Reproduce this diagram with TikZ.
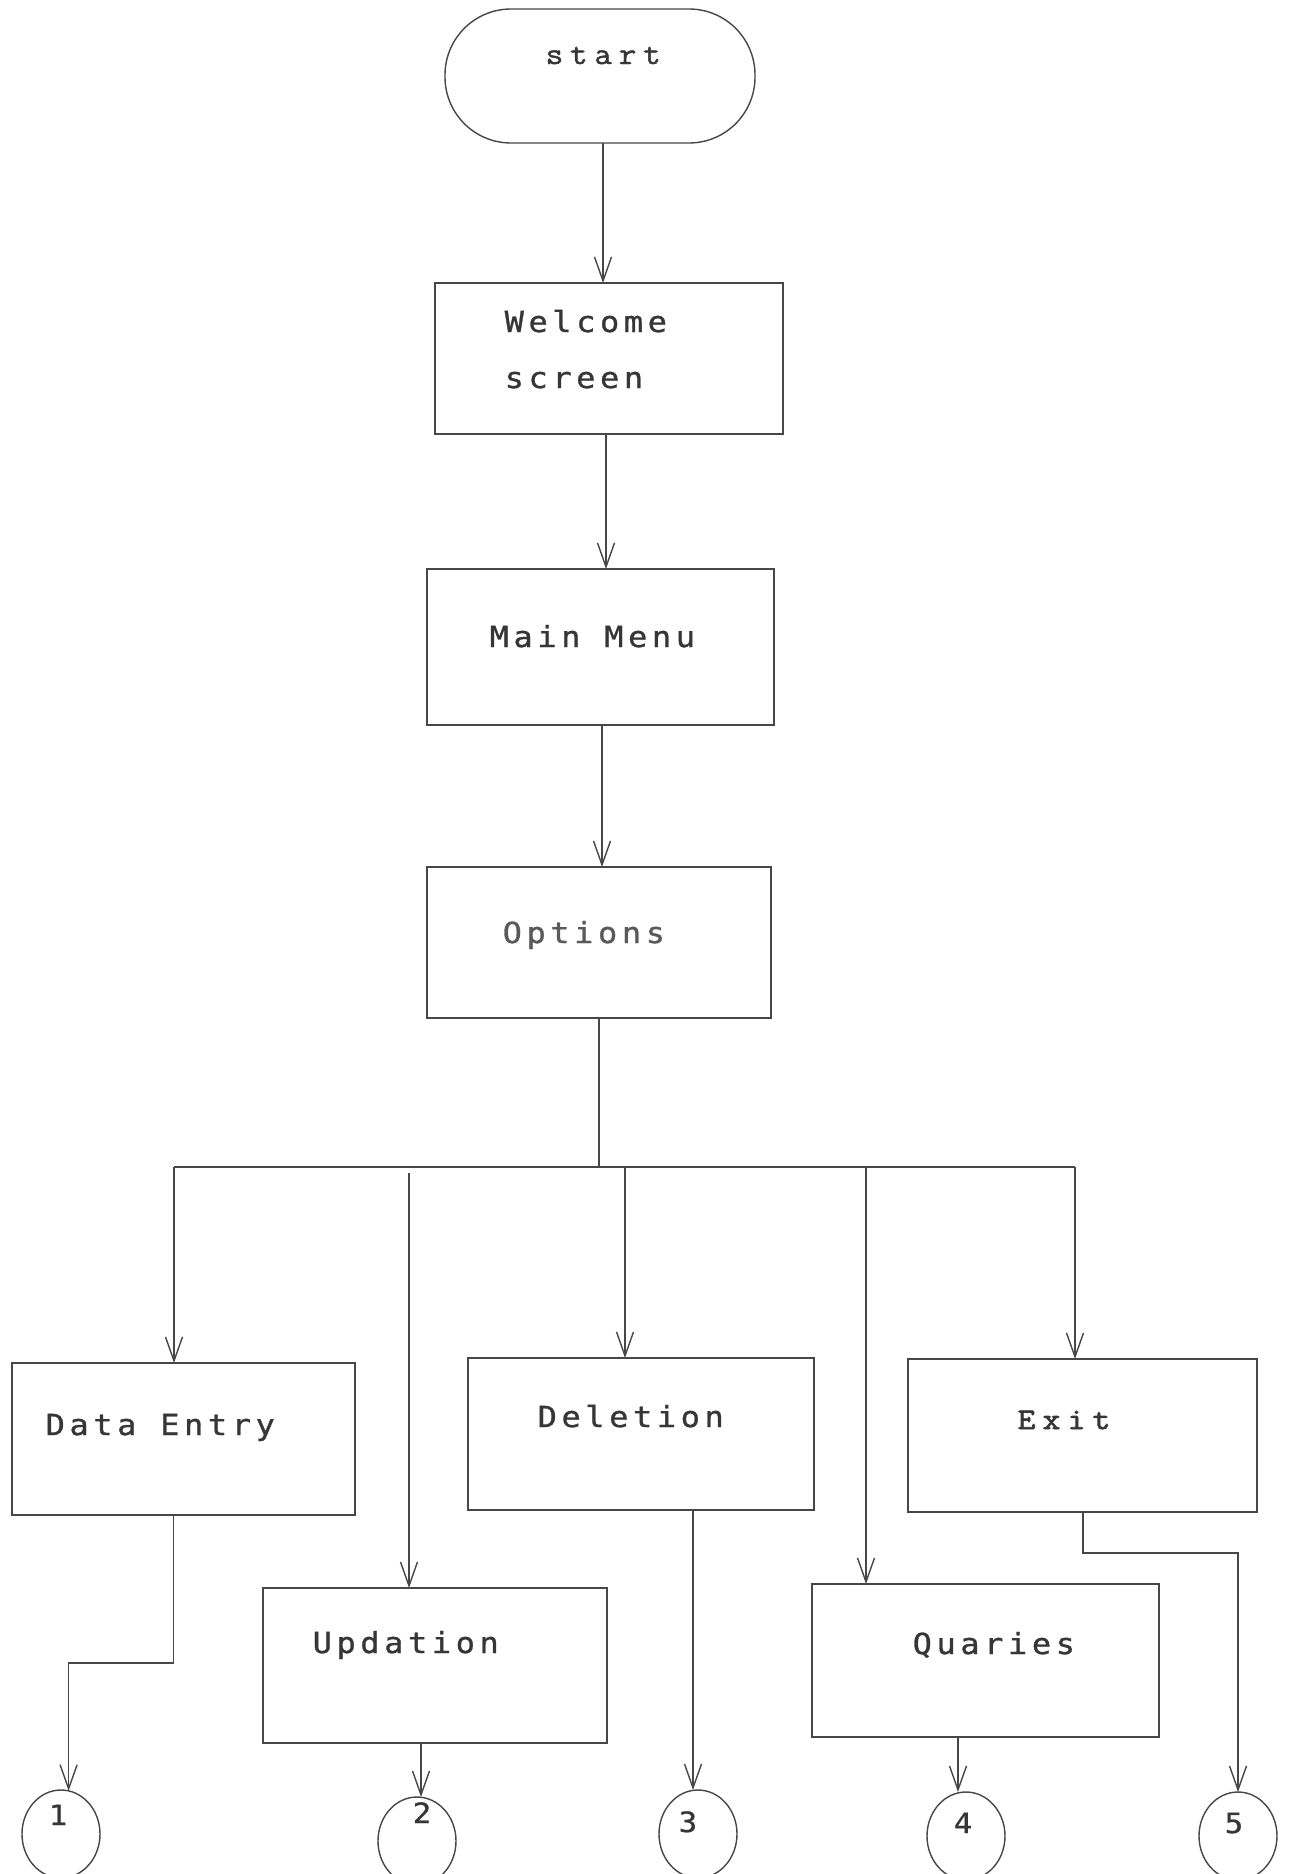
\documentclass[tikz,border=0pt]{standalone}
\usepackage{fontspec}
\usetikzlibrary{arrows.meta,shapes.geometric}
\newfontfamily\boxfont{DejaVu Sans Mono}[FakeStretch=1.1,LetterSpace=16,FakeBold=1]
\newfontfamily\numfont{DejaVu Sans Mono}[FakeStretch=1.1,FakeBold=0.8]
\newfontfamily\termfont{Latin Modern Mono}[FakeStretch=1.1,LetterSpace=22,FakeBold=1.4]
\newfontfamily\exitfont{Latin Modern Mono}[FakeStretch=1.15,LetterSpace=24,FakeBold=2.6]
\definecolor{ink}{HTML}{363636}
\definecolor{wire}{HTML}{474747}
\definecolor{softink}{HTML}{5A5A5A}
\begin{document}
\begin{tikzpicture}[x=1pt,y=-1pt,
  line width=1.4pt, draw=wire,
  stepbox/.style={draw=wire, rectangle, inner sep=0pt, outer sep=0pt},
  term/.style={draw=wire, rectangle, rounded corners=66pt, inner sep=0pt, outer sep=0pt,
    minimum width=310pt, minimum height=134pt},
  conn/.style={draw=wire, ellipse, inner sep=0pt, outer sep=0pt,
    minimum width=78pt, minimum height=88pt},
  lbl/.style={anchor=base west, inner sep=0pt, text=ink,
    font=\boxfont\fontsize{29}{34}\selectfont},
  numlbl/.style={anchor=base, inner sep=0pt, text=ink,
    font=\numfont\fontsize{28}{32}\selectfont},
  arr/.style={draw=wire, -{Straight Barb[length=24pt, width=17pt]}}]
\useasboundingbox (0,0) rectangle (1288,1874);
\fill[white] (0,0) rectangle (1288,1874);

% process boxes
\node[term] (start) at (600,76) {};
\node[stepbox, minimum width=348pt, minimum height=151pt] (welcome) at (609,358.5) {};
\node[stepbox, minimum width=347pt, minimum height=156pt] (menu) at (600.5,647) {};
\node[stepbox, minimum width=344pt, minimum height=151pt] (options) at (599,942.5) {};
\node[stepbox, minimum width=343pt, minimum height=152pt] (entry) at (183.5,1439) {};
\node[stepbox, minimum width=346pt, minimum height=152pt] (deletion) at (641,1434) {};
\node[stepbox, minimum width=349pt, minimum height=153pt] (exit) at (1082.5,1435.5) {};
\node[stepbox, minimum width=344pt, minimum height=155pt] (updation) at (435,1665.5) {};
\node[stepbox, minimum width=347pt, minimum height=153pt] (quaries) at (985.5,1660.5) {};

% off-page connectors
\node[conn] (c1) at (61,1834) {};
\node[conn] (c2) at (417,1841) {};
\node[conn] (c3) at (698,1834) {};
\node[conn] (c4) at (966,1836) {};
\node[conn] (c5) at (1238,1836) {};

% labels
\node[anchor=base west, inner sep=0pt, text=ink, font=\termfont\fontsize{31}{36}\selectfont] (tstart) at (545,64) {start};
\node[lbl] (twelcome) at (504,332) {Welcome};
\node[lbl] (tscreen) at (504,388) {screen};
\node[lbl] (tmenu) at (489,647) {Main Menu};
\node[lbl, text=softink] (toptions) at (502,943) {Options};
\node[lbl] (tentry) at (45,1435) {Data Entry};
\node[lbl] (tdeletion) at (537,1427) {Deletion};
\node[anchor=base west, inner sep=0pt, text=ink, font=\exitfont\fontsize{30}{36}\selectfont] (texit) at (1017,1429) {Exit};
\node[lbl] (tupdation) at (312,1653) {Updation};
\node[lbl] (tquaries) at (912,1654) {Quaries};
\node[numlbl] (n1) at (58,1825) {1};
\node[numlbl] (n2) at (422,1823) {2};
\node[numlbl] (n3) at (688,1832) {3};
\node[numlbl] (n4) at (963,1833) {4};
\node[numlbl] (n5) at (1234,1833) {5};

% main spine
\draw[arr] ([xshift=3pt]start.south) -- ([xshift=3pt]start.south |- welcome.north);
\draw[arr] ([xshift=-3pt]welcome.south) -- ([xshift=-3pt]welcome.south |- menu.north);
\draw[arr] ([xshift=1.5pt]menu.south) -- ([xshift=1.5pt]menu.south |- options.north);

% branch bus
\coordinate (b1) at (174,1167);
\coordinate (b2) at (409,1173);
\coordinate (b3) at (625,1167);
\coordinate (b4) at (866,1167);
\coordinate (b5) at (1075,1167);
\draw (options.south) -- (options.south |- b1);
\draw (b1) -- (b5);
\draw[arr] (b1) -- (b1 |- entry.north);
\draw[arr] (b2) -- (b2 |- updation.north);
\draw[arr] (b3) -- (b3 |- deletion.north);
\draw[arr] (b4) -- (b4 |- quaries.north);
\draw[arr] (b5) -- (b5 |- exit.north);

% outgoing connectors
\draw[arr] ([xshift=-10pt]entry.south) -- ++(0,148) -| (c1.80);
\draw[arr] ([xshift=-14pt]updation.south) -- ([xshift=-14pt]updation.south |- c2.north);
\draw[arr] ([xshift=52pt]deletion.south) -- ([xshift=52pt]deletion.south |- c3.north);
\draw[arr] ([xshift=-27.5pt]quaries.south) -- ([xshift=-27.5pt]quaries.south |- c4.north);
\draw[arr] ([xshift=0.5pt]exit.south) -- ++(0,41) -| (c5.north);
\end{tikzpicture}
\end{document}
